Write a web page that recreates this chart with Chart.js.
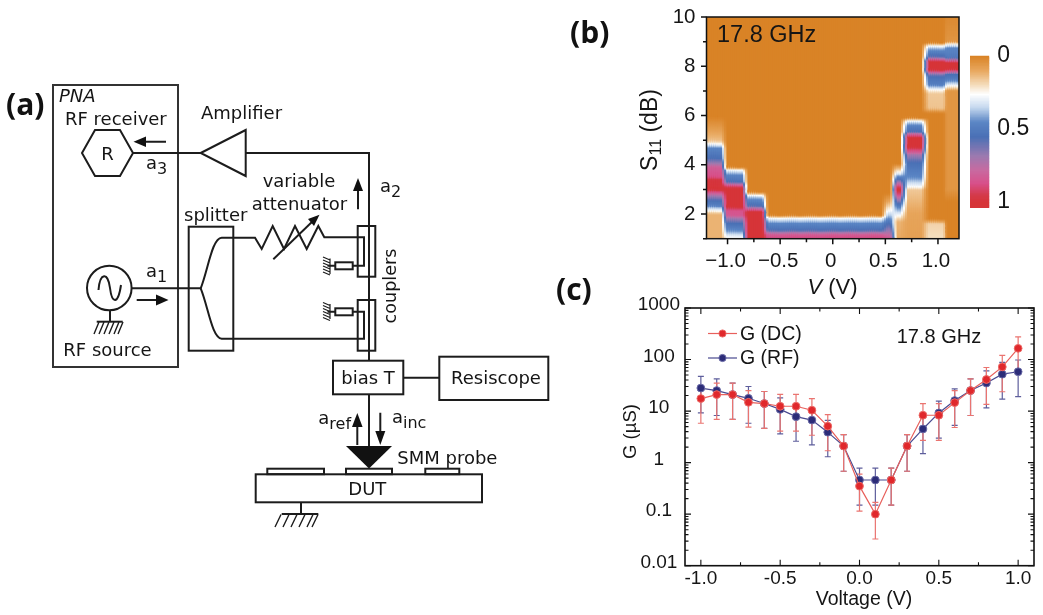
<!DOCTYPE html>
<html><head><meta charset="utf-8">
<script src="https://cdn.jsdelivr.net/npm/chart.js@4"></script>
<style>
html,body{margin:0;padding:0;background:#fff;width:1043px;height:615px;overflow:hidden}
canvas{position:absolute}
svg{position:absolute;left:0;top:0}
svg text{font-family:"DejaVu Sans";fill:#151515}
.d text{font-size:18px}
.h{font-family:"Liberation Sans" !important}
.p{font-family:"Open Sans" !important;font-weight:700;fill:#111}
</style></head><body>
<canvas id="heat" style="left:620px;top:0" width="345" height="300"></canvas>
<canvas id="bar" style="left:960px;top:40px" width="83" height="185"></canvas>
<canvas id="line" style="left:600px;top:290px" width="443" height="325"></canvas>
<svg width="1043" height="615" viewBox="0 0 1043 615">
<g fill="none" stroke="#1c1c1c" stroke-width="2">
<rect x="53" y="85" width="125" height="282" stroke="#333"/>
<polygon points="82,153 95,130 120,130 133,153 120,176 95,176"/>
<path d="M133 153H200.7M245.7 153H369V360.7"/>
<polygon points="200.7,153 245.7,130 245.7,176"/>
<rect x="188.7" y="226.7" width="44.6" height="124"/>
<path d="M131.5 288.3H200.7C208 270 212 238 221.7 237.7H255L261.7 249L272.7 226L284 249L295 226L306.7 249L318.3 226L324.3 237.3H364V265.7H353"/>
<path d="M200.7 288.3C208 306 212 338 221.7 338.7H364V311.7H353"/>
<rect x="357.7" y="226" width="17.6" height="50.7"/>
<rect x="357.7" y="300" width="17.6" height="50.7"/>
<rect x="335.3" y="262.3" width="17.4" height="7"/>
<rect x="335.3" y="308.3" width="17.4" height="7"/>
<path d="M327.5 265.7H335.3M327.5 311.7H335.3"/>
<circle cx="109.3" cy="288" r="22.3"/>
<path d="M98.5 290C100 272 108 272 110 288S118 305 121 285"/>
<path d="M110 310.3V321.5"/>
<path d="M96.7 321.7H122.7"/>
<path d="M99 322L94 334M104 322L99 334M109 322L104 334M114 322L109 334M119 322L114 334M123 322L118 334" stroke-width="1.4"/>
<rect x="333" y="360.7" width="70.3" height="33.6"/>
<path d="M403.3 377.7H439M369 394.3V450"/>
<rect x="439.3" y="356.7" width="109" height="43.3"/>
<rect x="267.3" y="468.7" width="56.7" height="5.5"/>
<rect x="346" y="468.7" width="46" height="5.5"/>
<rect x="425.3" y="468.7" width="34" height="5.5"/>
<rect x="255.7" y="474.3" width="226.3" height="28"/>
<path d="M301 502.3V514M281.7 514H318.3"/>
<path d="M281 514.5L275 527M289 514.5L283 527M297 514.5L291 527M305 514.5L299 527M313 514.5L307 527M318 514.5L312 527" stroke-width="1.4"/>
<path d="M273.3 259.3L315 219"/>
<path d="M330 258.5V274M330 260L323 257M330 263L323 260M330 266L323 263M330 269L323 266M330 272L323 269M330 275L323 272" stroke-width="1.2"/>
<path d="M330 304V319M330 305.5L323 302.5M330 308.5L323 305.5M330 311.5L323 308.5M330 314.5L323 311.5M330 317.5L323 314.5M330 320.5L323 317.5" stroke-width="1.2"/>
<path d="M166 141.7H142M136.7 300H160M358 209.3V186M357.3 445V420M380.3 412.7V438"/>
</g>
<g fill="#111">
<polygon points="133.5,141.7 146,136.5 146,147"/>
<polygon points="168.5,300 156,294.5 156,305.5"/>
<polygon points="319.5,214.8 308,219 314,226"/>
<polygon points="358,178 353,191 363,191"/>
<polygon points="357.3,413 352,427 362.6,427"/>
<polygon points="380.3,445 375.3,431 385.3,431"/>
<polygon points="346,446 392,446 369,468.5"/>
</g>
<g class="d">
<text x="59" y="102" font-style="italic">PNA</text>
<text x="65" y="125">RF receiver</text>
<text x="107.5" y="159.5" text-anchor="middle">R</text>
<text x="201" y="119">Amplifier</text>
<text x="146" y="169">a<tspan dy="5" style="font-size:16px">3</tspan></text>
<text x="184" y="221">splitter</text>
<text x="146" y="277">a<tspan dy="5" style="font-size:16px">1</tspan></text>
<text x="63.3" y="356">RF source</text>
<text x="262.7" y="187">variable</text>
<text x="251.7" y="209.5">attenuator</text>
<text x="380" y="192">a<tspan dy="5" style="font-size:16px">2</tspan></text>
<text transform="translate(396,286) rotate(-90)" text-anchor="middle" style="font-size:17.6px">couplers</text>
<text x="368" y="383.5" text-anchor="middle">bias T</text>
<text x="451" y="384">Resiscope</text>
<text x="318.3" y="424">a<tspan dy="5" style="font-size:16px">ref</tspan></text>
<text x="392" y="423">a<tspan dy="5" style="font-size:16px">inc</tspan></text>
<text x="397.3" y="463.5">SMM probe</text>
<text x="367.3" y="495" text-anchor="middle">DUT</text>
</g>
<text class="p" x="6" y="115" style="font-size:30px">(a)</text>
<text class="p" x="570" y="43" style="font-size:30px">(b)</text>
<text class="p" x="556" y="300" style="font-size:30px">(c)</text>
<text class="h" x="717" y="42" style="font-size:23.5px">17.8 GHz</text>
<text class="h" transform="translate(657,130) rotate(-90)" text-anchor="middle" style="font-size:23px">S<tspan dy="4" style="font-size:16px">11</tspan><tspan dy="-4"> (dB)</tspan></text>
<text class="h" x="832.5" y="294" text-anchor="middle" style="font-size:22px"><tspan font-style="italic">V</tspan> (V)</text>
<text class="h" x="896.7" y="343" style="font-size:20px">17.8 GHz</text>
<text class="h" x="864" y="605" text-anchor="middle" style="font-size:19.5px">Voltage (V)</text>
<text class="h" transform="translate(636,431.5) rotate(-90)" text-anchor="middle" style="font-size:18.5px">G (µS)</text>
<path d="M708 333.5H737" stroke="#e8605c" stroke-width="1.2"/>
<circle cx="722.5" cy="333.5" r="3.6" fill="#e0282c" stroke="#ec6a66"/>
<path d="M708 358H737" stroke="#4a4a90" stroke-width="1.2"/>
<circle cx="722.5" cy="358" r="3.6" fill="#2c2c78" stroke="#6a6aa6"/>
<text class="h" x="740" y="339.5" style="font-size:19.5px">G (DC)</text>
<text class="h" x="740" y="364" style="font-size:19.5px">G (RF)</text>
</svg>
<script>
// ---------- panel (c) data ----------
const voltage = [-1,-0.9,-0.8,-0.7,-0.6,-0.5,-0.4,-0.3,-0.2,-0.1,0,0.1,0.2,0.3,0.4,0.5,0.6,0.7,0.8,0.9,1];
const gDC   = [17.5,20.9,20.9,14.8,14,12.4,12.4,10.4,5.1,2.1,0.35,0.1,0.46,2.1,8.3,8.3,14.6,25,41,72,165];
const gDCHi = [30,35,35,25,24,21,21,17.5,8.5,3.5,0.6,0.17,0.78,3.5,14,14,25,42,70,120,275];
const gDCLo = [5.8,6.9,6.9,4.9,4.6,4.1,4.1,3.4,1.7,0.68,0.115,0.033,0.15,0.68,2.7,2.7,4.8,8.2,13.5,23.7,54];
const gRF   = [28,25,20.9,17.7,14,10.8,7.8,6.7,3.9,2.1,0.46,0.46,0.46,2.1,4.5,9.2,16,25,35,52,58];
const gRFHi = [47,42,35,30,24,18,13,11.4,6.6,3.5,0.78,0.78,0.78,3.5,7.6,15.6,27,42,60,88,98];
const gRFLo = [9.2,8.2,6.9,5.8,4.6,3.6,2.6,2.2,1.3,0.68,0.15,0.15,0.15,0.68,1.5,3,5.3,8.2,11.5,17,19];
const voltTicks = [-1,-0.5,0,0.5,1];
const voltMinor = [-1,-0.75,-0.5,-0.25,0,0.25,0.5,0.75,1];
const gTicks = [0.01,0.1,1,10,100,1000];
// ---------- panel (b) data: S11 profile of each measured column as [dB, normalised value] ----------
const heatColumnSpans = [[-1.2,-1.05],[-1,-0.85],[-0.8,-0.66],[-0.61,0.47],[0.53,0.56],[0.615,0.645],[0.72,0.85],[0.92,1.06],[1.09,1.2]];
const colA = [[1,.12],[2,.12],[2.15,.26],[2.35,.48],[2.55,.55],[2.77,.72],[3,1],[3.4,.98],[3.5,.88],[3.9,.82],[4.05,.7],[4.27,.55],[4.7,.45],[4.85,.26],[5,.14],[5.4,.08],[5.96,0],[10,0]];
const colB = [[1,.26],[1.05,.26],[1.35,.45],[1.63,.55],[1.85,.72],[1.95,.84],[2.15,.86],[2.3,1],[3.05,1],[3.2,.8],[3.3,.55],[3.6,.45],[3.8,.26],[3.9,0],[10,0]];
const colC = [[1,1],[2.1,1],[2.25,.72],[2.35,.55],[2.65,.42],[2.77,.26],[2.9,0],[10,0]];
const colD = [[1,.88],[1.15,.84],[1.3,.65],[1.35,.55],[1.63,.45],[1.84,.26],[1.95,0],[10,0]];
const colE = [[1,.85],[1.3,.7],[1.75,.48],[2.15,.26],[2.5,.1],[2.85,0],[10,0]];
const colF = [[1,.1],[1.7,.12],[1.95,.26],[2.35,.5],[2.6,.7],[2.8,.88],[3,1],[3.15,.88],[3.3,.7],[3.5,.48],[3.7,.26],[3.9,.1],[4.05,0],[10,0]];
const colG = [[1,.08],[2,.09],[3,.16],[3.1,.26],[3.5,.45],[4.1,.55],[4.4,.7],[4.55,.86],[4.75,1],[5.1,1],[5.25,.78],[5.35,.55],[5.6,.47],[5.8,.26],[5.9,0],[10,0]];
const colH = [[1,.2],[1.6,.18],[1.8,0],[6.1,0],[6.3,.15],[6.9,.16],[7.05,.26],[7.25,.48],[7.6,.55],[7.72,.72],[7.85,1],[8.2,1],[8.32,.72],[8.42,.55],[8.65,.45],[8.85,.26],[8.95,0],[10,0]];
const colI = [[1,0],[2.5,0],[3,.05],[6,.05],[7,.05],[7.1,.15],[7.2,.26],[7.45,.48],[7.68,.55],[7.78,.8],[7.88,1],[8.15,1],[8.28,.7],[8.38,.5],[8.75,.45],[8.9,.26],[9,.05],[10,.02]];
const heatColumns = [colA,colB,colC,colD,colE,colF,colG,colH,colI];
const sTicks = [2,4,6,8,10];
const sMinor = [1,2,3,4,5,6,7,8,9,10];
const vTicks = [-1,-0.5,0,0.5,1];
const vMinor = [-1,-0.75,-0.5,-0.25,0,0.25,0.5,0.75,1];
const barTicks = [0,0.5,1];
const cmap = [[0,[217,131,38]],[.1,[232,168,96]],[.2,[245,223,192]],[.26,[255,255,255]],[.35,[197,216,238]],[.45,[91,134,197]],[.55,[74,112,181]],[.68,[154,122,176]],[.78,[200,106,160]],[.87,[216,80,138]],[.95,[212,58,74]],[1,[214,52,56]]];

function colour(v){
  v=Math.max(0,Math.min(1,v));
  for(let i=1;i<cmap.length;i++){ if(v<=cmap[i][0]){
    const a=cmap[i-1],b=cmap[i],t=(v-a[0])/(b[0]-a[0]);
    return 'rgb('+a[1].map((c,k)=>Math.round(c+(b[1][k]-c)*t)).join(',')+')';
  }}
  return 'rgb(214,52,56)';
}
function sample(col,db){
  for(let i=1;i<col.length;i++){ if(db<=col[i][0]){
    const a=col[i-1],b=col[i]; return a[1]+(b[1]-a[1])*(db-a[0])/(b[0]-a[0]);
  }}
  return col[col.length-1][1];
}
function valueAt(V,db){
  const n=heatColumnSpans.length;
  for(let i=0;i<n;i++){
    const s=heatColumnSpans[i];
    if(V<=s[1]){
      if(V>=s[0]||i===0) return sample(heatColumns[i],db);
      const p=heatColumnSpans[i-1],t=(V-p[1])/(s[0]-p[1]);
      return sample(heatColumns[i-1],db)*(1-t)+sample(heatColumns[i],db)*t;
    }
  }
  return sample(heatColumns[n-1],db);
}
// heat-map cells: rendered as floating bars on the chart's own scales
const heatCells=[],heatColours=[];
for(let V=-1.195;V<1.2;V+=0.02){
  let lo=1,cur=null;
  for(let db=1;db<10;db+=0.05){
    const c=colour(valueAt(V,db+0.025));
    if(c!==cur){ if(cur){heatCells.push({x:V,y:[lo,db+0.07]});heatColours.push(cur);} cur=c;lo=db; }
  }
  heatCells.push({x:V,y:[lo,10]});heatColours.push(cur);
}
Chart.defaults.font.family='"Liberation Sans"';
Chart.defaults.color='#151515';
Chart.defaults.animation=false;
function fixed(w){return function(s){s.width=w;s.paddingTop=0;s.paddingBottom=0;s.paddingLeft=0;s.paddingRight=0;};}
function fixedH(h){return function(s){s.height=h;s.paddingTop=0;s.paddingBottom=0;s.paddingLeft=0;s.paddingRight=0;};}
const heatFrame={id:'heatFrame',afterDraw(c){
  const a=c.chartArea,x=c.ctx,sx=c.scales.x,sy=c.scales.y;
  x.save();x.strokeStyle='#111';x.lineWidth=1.5;x.strokeRect(a.left,a.top,a.right-a.left,a.bottom-a.top);
  x.beginPath();
  vMinor.forEach(v=>{const p=sx.getPixelForValue(v),l=vTicks.includes(v)?5.5:3.5;x.moveTo(p,a.bottom);x.lineTo(p,a.bottom+l);});
  sMinor.forEach(v=>{const p=sy.getPixelForValue(v),l=sTicks.includes(v)?5.5:3.5;x.moveTo(a.left,p);x.lineTo(a.left-l,p);});
  x.stroke();x.restore();
}};
new Chart(document.getElementById('heat'),{type:'bar',plugins:[heatFrame],
 data:{datasets:[{data:heatCells,backgroundColor:heatColours,borderWidth:0,barThickness:2.7,grouped:false}]},
 options:{responsive:false,devicePixelRatio:1,layout:{padding:{top:17,right:6}},plugins:{legend:{display:false},tooltip:{enabled:false}},
  scales:{
   x:{type:'linear',offset:false,min:-1.2,max:1.2,afterFit:fixedH(61.3),grid:{display:false,drawTicks:false},border:{display:false},
     afterBuildTicks(s){s.ticks=vTicks.map(v=>({value:v}));},
     ticks:{font:{size:20.5},padding:10,labelOffset:-2,autoSkip:false,maxRotation:0,callback:v=>v===0?'0':(v<0?'\u2212':'')+Math.abs(v).toFixed(1)}},
   y:{type:'linear',min:1,max:10,afterFit:fixed(86.5),grid:{display:false,drawTicks:false},border:{display:false},
     afterBuildTicks(s){s.ticks=sTicks.map(v=>({value:v}));},
     ticks:{font:{size:20.5},padding:11,autoSkip:false,callback:v=>String(v)}}
  }}});
// colour bar
const barCells=[],barColours=[];
for(let v=0;v<1.04;v+=0.01){barCells.push({x:0,y:[v,v+0.014]});barColours.push(colour(v));}
new Chart(document.getElementById('bar'),{type:'bar',
 data:{datasets:[{data:barCells,backgroundColor:barColours,borderWidth:0,barThickness:19.3,grouped:false}]},
 options:{responsive:false,devicePixelRatio:1,layout:{padding:{top:15,bottom:17,left:10}},plugins:{legend:{display:false},tooltip:{enabled:false}},
  scales:{
   x:{type:'linear',min:-1,max:1,display:false},
   y:{type:'linear',position:'right',reverse:true,min:-0.007,max:1.04,afterFit:fixed(53.7),grid:{display:false,drawTicks:false},border:{display:false},
     afterBuildTicks(s){s.ticks=barTicks.map(v=>({value:v}));},
     ticks:{font:{size:23},padding:8,autoSkip:false,callback:v=>String(v)}}
  }}});
// panel (c)
const errorBars={id:'errorBars',beforeDatasetsDraw(c){
  const x=c.ctx,sx=c.scales.x,sy=c.scales.y;
  const draw=(hi,lo,col)=>{x.strokeStyle=col;x.lineWidth=1.2;x.beginPath();
    voltage.forEach((v,i)=>{const p=sx.getPixelForValue(v),a=sy.getPixelForValue(hi[i]),b=sy.getPixelForValue(lo[i]);
      x.moveTo(p,a);x.lineTo(p,b);x.moveTo(p-3,a);x.lineTo(p+3,a);x.moveTo(p-3,b);x.lineTo(p+3,b);});
    x.stroke();};
  x.save();draw(gRFHi,gRFLo,'#5e5e9c');draw(gDCHi,gDCLo,'#ea7470');x.restore();
}};
const boxTicks={id:'boxTicks',afterDraw(c){
  const a=c.chartArea,x=c.ctx,sx=c.scales.x,sy=c.scales.y;
  x.save();x.strokeStyle='#111';x.lineWidth=1.6;x.strokeRect(a.left,a.top,a.right-a.left,a.bottom-a.top);
  x.lineWidth=1.1;x.beginPath();
  voltMinor.forEach(v=>{const p=sx.getPixelForValue(v),l=voltTicks.includes(v)?6:3.5;
    x.moveTo(p,a.bottom);x.lineTo(p,a.bottom-l);x.moveTo(p,a.top);x.lineTo(p,a.top+l);});
  gTicks.forEach((d,k)=>{for(let m=1;m<(k===gTicks.length-1?2:10);m++){
    const p=sy.getPixelForValue(d*m),l=m===1?6:3.5;
    x.moveTo(a.left,p);x.lineTo(a.left+l,p);x.moveTo(a.right,p);x.lineTo(a.right-l,p);}});
  x.stroke();x.restore();
}};
const mk=(label,data,line,fill,edge)=>({label,data:data.map((y,i)=>({x:voltage[i],y})),borderColor:line,borderWidth:1.2,backgroundColor:fill,
  pointBorderColor:edge,pointBorderWidth:1,pointRadius:3.9,tension:0});
new Chart(document.getElementById('line'),{type:'line',plugins:[errorBars,boxTicks],
 data:{datasets:[mk('G (DC)',gDC,'#e8605c','#e0282c','#ec6a66'),mk('G (RF)',gRF,'#4a4a90','#2c2c78','#6a6aa6')]},
 options:{responsive:false,devicePixelRatio:1,layout:{padding:{top:18,right:9}},plugins:{legend:{display:false},tooltip:{enabled:false}},
  scales:{
   x:{type:'linear',min:-1.1,max:1.1,afterFit:fixedH(49.3),grid:{display:false,drawTicks:false},border:{display:false},
     afterBuildTicks(s){s.ticks=voltTicks.map(v=>({value:v}));},
     ticks:{font:{size:19},padding:2,autoSkip:false,maxRotation:0,callback:v=>Number(v).toFixed(1)}},
   y:{type:'logarithmic',min:0.01,max:1000,afterFit:fixed(85),grid:{display:false,drawTicks:false},border:{display:false},
     afterBuildTicks(s){s.ticks=gTicks.map(v=>({value:v}));},
     ticks:{font:{size:19},padding:5,labelOffset:-3,crossAlign:'center',autoSkip:false,callback:v=>String(v)}}
  }}});
</script>
</body></html>
